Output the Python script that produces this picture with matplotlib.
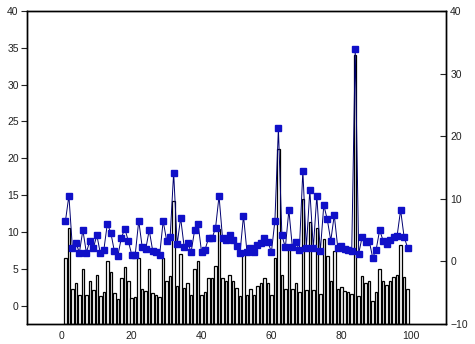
import matplotlib
matplotlib.use("Agg")
import matplotlib.pyplot as plt
import numpy as np

x_vals = list(range(1, 100))
values = [6.4, 10.5, 2.2, 3.0, 1.4, 5.0, 1.4, 3.3, 2.1, 4.2,
          1.3, 1.8, 6.0, 4.6, 1.7, 0.85, 3.7, 5.25, 3.3, 1.05,
          1.1, 6.5, 2.25, 1.95, 5.0, 1.7, 1.5, 1.1, 6.45, 3.3,
          3.95, 14.2, 2.7, 6.95, 2.35, 3.0, 1.5, 4.95, 6.0, 1.45,
          1.9, 3.7, 3.7, 5.35, 10.45, 3.7, 3.35, 4.15, 3.35, 2.4,
          1.3, 7.3, 1.5, 2.2, 1.5, 2.6, 3.0, 3.7, 3.1, 1.5,
          6.5, 21.3, 4.15, 2.25, 8.2, 2.25, 3.1, 1.8, 14.5, 2.1,
          11.4, 2.1, 10.5, 1.6, 9.0, 6.7, 3.3, 7.4, 2.2, 2.5,
          2.0, 1.9, 1.6, 34.0, 1.25, 3.95, 3.1, 3.3, 0.6, 1.9,
          5.0, 3.3, 2.85, 3.4, 3.9, 4.1, 8.2, 3.9, 2.2]

left_ticks = [0, 5, 10, 15, 20, 25, 30, 35, 40]
right_ticks = [-10, 0, 10, 20, 30, 40]
x_ticks = [0, 20, 40, 60, 80, 100]

plt.rcParams['font.family'] = ['Liberation Sans', 'DejaVu Sans']

fig = plt.figure(figsize=(4.75, 3.44), dpi=100)
ax = fig.add_axes([27/475, 1-324/344, (446-27)/475, (324-11)/344])
left_bottom = -2.5
ax.set_xlim(-10, 110)
ax.set_ylim(left_bottom, 40)
heights = [v - left_bottom for v in values]
ax.bar(x_vals, heights, bottom=left_bottom, width=0.72, color='white',
       edgecolor='black', linewidth=0.9, zorder=2)
ax.set_yticks(left_ticks)
ax.set_xticks(x_ticks)
ax.tick_params(axis='y', direction='out', length=4, width=0.8, labelsize=7.5,
               colors='#222222', pad=2)
ax.tick_params(axis='x', length=0, labelsize=7.5, colors='#222222', pad=5)
for s in ax.spines.values():
    s.set_linewidth(1.0)
    s.set_color('black')

ax2 = ax.twinx()
ax2.set_ylim(-10, 40)
ax2.plot(x_vals, values, color='#000070', linewidth=0.7, marker='s',
         markersize=5, markerfacecolor='#1010c8', markeredgecolor='#1010c8',
         zorder=3)
ax2.set_yticks(right_ticks)
ax2.tick_params(axis='y', direction='in', length=4, width=0.8, labelsize=7.5,
                colors='#222222', pad=3)
for s in ax2.spines.values():
    s.set_linewidth(1.0)
    s.set_color('black')

fig.savefig('out.png', dpi=100)
